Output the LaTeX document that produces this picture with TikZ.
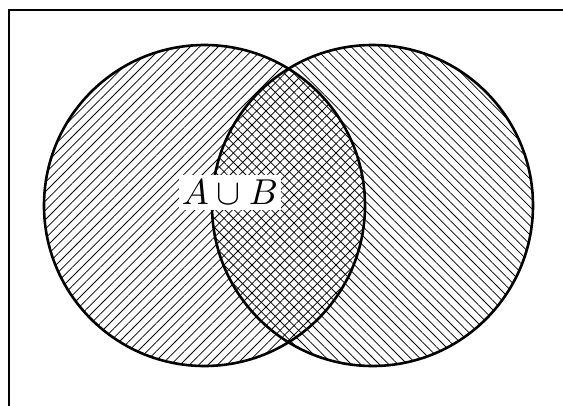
\documentclass[tikz,border=0pt]{standalone}
\usetikzlibrary{patterns.meta}
\begin{document}
\begin{tikzpicture}[x=1pt,y=-1pt,
  setA/.style={pattern={Lines[angle=45,distance=6.6pt,line width=0.75pt]}},
  setB/.style={pattern={Lines[angle=-45,distance=6.6pt,line width=0.75pt]}},
  outline/.style={line width=2.6pt},
  framestyle/.style={line width=2pt},
  lab/.style={fill=white,inner xsep=0.8pt,inner ysep=1.4pt,scale=3.6}]
\useasboundingbox (0,0) rectangle (563,405);
\begin{scope}
  \clip (0,0) rectangle (563,405);
  \draw[framestyle] (8.5,9.5) rectangle (620,460);
\end{scope}
\path[setA] (204.5,205.5) circle[radius=160.5];
\path[setB] (372.5,205.5) circle[radius=160.5];
\draw[outline] (204.5,205.5) circle[radius=160.5];
\draw[outline] (372.5,205.5) circle[radius=160.5];
\node[lab] (AB) at (230,192.5) {$A\cup B$};
\end{tikzpicture}
\end{document}
